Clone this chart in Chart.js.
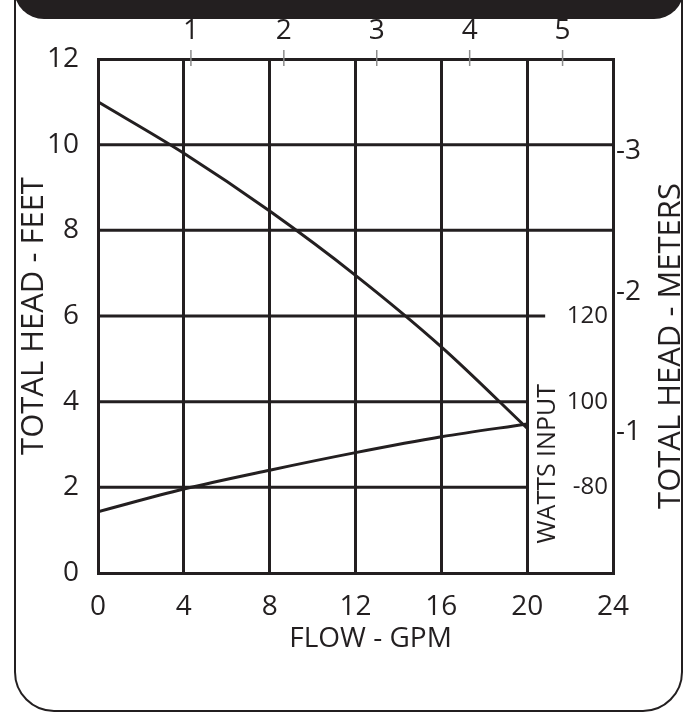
<!DOCTYPE html>
<html>
<head>
<meta charset="utf-8">
<script src="https://cdn.jsdelivr.net/npm/chart.js@4.4.1/dist/chart.umd.min.js"></script>
<style>
  html, body { margin: 0; padding: 0; background: #fff; overflow: hidden; }
  #wrap { position: relative; width: 696px; height: 714px; overflow: hidden; }
  .frame { position: absolute; left: 14px; top: -100px; width: 665px; height: 808px;
           border: 2.5px solid #231f20; border-radius: 40px; }
  .header { position: absolute; left: 14px; top: -80px; width: 670px; height: 99px;
            background: #231f20; border-radius: 0 0 30px 30px; }
  canvas { position: absolute; left: 0; top: 0; }
</style>
</head>
<body>
<div id="wrap">
  <div class="frame"></div>
  <div class="header"></div>
  <canvas id="chart" width="696" height="714"></canvas>
</div>
<script>
// ---- data ----
const flowGpm    = [0, 4, 8, 12, 16, 20];
const headFeet   = [11.0, 9.8, 8.45, 6.95, 5.28, 3.38];
const wattsInput = [74.3, 79.6, 84.0, 88.1, 91.8, 94.8];

// ---- axis ticks ----
const flowTicks   = [0, 4, 8, 12, 16, 20, 24];
const headTicks   = [0, 2, 4, 6, 8, 10, 12];
const meterTicks  = [1, 2, 3];
const meterLabels = ['-1', '-2', '-3'];
const cubicTicks  = [1, 2, 3, 4, 5];
const wattTicks   = [80, 100, 120];
const wattLabels  = ['-80', '100', '120'];

const FT_PER_M = 3.2808;
const GPM_PER_M3H = 4.33;
const ink = '#231f20';

Chart.defaults.font.family = "'Open Sans', sans-serif";
Chart.defaults.color = ink;

function setTicks(list) {
    return scale => { scale.ticks = list.map(v => ({ value: v })); };
}

// lines, marks and labels the axes can't draw by themselves
const extras = {
    id: 'extras',
    beforeDatasetsDraw(chart) {
        const { ctx, chartArea, scales } = chart;
        const x = scales.x, y = scales.y, yW = scales.yW, x2 = scales.x2;
        const x20 = x.getPixelForValue(20);

        ctx.save();
        ctx.strokeStyle = ink;
        ctx.lineWidth = 3;
        // horizontal grid: upper lines run full width, lower ones stop at 20 GPM
        headTicks.forEach(v => {
            if (v === 0 || v === 12) return;
            const py = y.getPixelForValue(v);
            ctx.beginPath();
            ctx.moveTo(chartArea.left, py);
            ctx.lineTo(v >= 8 ? chartArea.right : x20, py);
            ctx.stroke();
        });
        // 120 W tick mark
        const p120 = yW.getPixelForValue(120);
        ctx.beginPath();
        ctx.moveTo(x20, p120);
        ctx.lineTo(x20 + 18, p120);
        ctx.stroke();

        // small grey ticks of the top (m3/h) scale
        ctx.strokeStyle = '#8c8c8c';
        ctx.lineWidth = 1.5;
        cubicTicks.forEach(v => {
            const px = x2.getPixelForValue(v);
            ctx.beginPath();
            ctx.moveTo(px, chartArea.top - 9);
            ctx.lineTo(px, chartArea.top + 7);
            ctx.stroke();
        });
        ctx.restore();
    },
    afterDraw(chart) {
        const { ctx, chartArea, scales } = chart;
        const yW = scales.yW;
        ctx.save();
        ctx.fillStyle = ink;

        // watts labels
        ctx.font = "24px 'Open Sans'";
        ctx.textAlign = 'right';
        ctx.textBaseline = 'middle';
        wattTicks.forEach((v, i) => {
            ctx.fillText(wattLabels[i], chartArea.right - 5, yW.getPixelForValue(v));
        });

        ctx.textAlign = 'center';

        // flow axis title (sits a little right of centre in the original)
        ctx.font = "28px 'Open Sans'";
        ctx.fillText('FLOW - GPM', scales.x.getPixelForValue(12.7), chartArea.bottom + 66);

        // rotated titles
        ctx.font = "25px 'Open Sans'";
        ctx.save();
        ctx.translate(scales.x.getPixelForValue(20) + 21, yW.getPixelForValue(85.5));
        ctx.rotate(-Math.PI / 2);
        ctx.fillText('WATTS INPUT', 0, 0);
        ctx.restore();

        ctx.font = "31px 'Open Sans'";
        ctx.save();
        ctx.translate(671, (chartArea.top + chartArea.bottom) / 2 + 30);
        ctx.rotate(-Math.PI / 2);
        ctx.fillText('TOTAL HEAD - METERS', 0, 0);
        ctx.restore();

        ctx.restore();
    }
};

const ctx = document.getElementById('chart').getContext('2d');

new Chart(ctx, {
    type: 'line',
    data: {
        datasets: [
            {
                label: 'Total head',
                data: flowGpm.map((f, i) => ({ x: f, y: headFeet[i] })),
                xAxisID: 'x',
                yAxisID: 'y',
                borderColor: ink,
                borderWidth: 3,
                pointRadius: 0,
                cubicInterpolationMode: 'monotone',
                fill: false
            },
            {
                label: 'Watts input',
                data: flowGpm.map((f, i) => ({ x: f, y: wattsInput[i] })),
                xAxisID: 'x',
                yAxisID: 'yW',
                borderColor: ink,
                borderWidth: 3,
                pointRadius: 0,
                cubicInterpolationMode: 'monotone',
                fill: false
            }
        ]
    },
    options: {
        responsive: false,
        animation: false,
        layout: { padding: 0 },
        plugins: {
            legend: { display: false },
            tooltip: { enabled: false }
        },
        scales: {
            x: {
                type: 'linear',
                position: 'bottom',
                min: 0,
                max: 24,
                afterBuildTicks: setTicks(flowTicks),
                afterFit: s => { s.height = 141; },
                grid: { color: ink, lineWidth: 3, drawTicks: false },
                border: { color: ink, width: 3 },
                ticks: { font: { size: 28 }, color: ink, padding: 17, maxRotation: 0, autoSkip: false }
            },
            x2: {
                type: 'linear',
                position: 'top',
                min: 0,
                max: 24 / GPM_PER_M3H,
                afterBuildTicks: setTicks(cubicTicks),
                afterFit: s => { s.height = 59; },
                grid: { display: false, drawTicks: false },
                border: { color: ink, width: 3 },
                ticks: { font: { size: 28 }, color: ink, padding: 11, maxRotation: 0, autoSkip: false }
            },
            y: {
                type: 'linear',
                position: 'left',
                min: 0,
                max: 12,
                afterBuildTicks: setTicks(headTicks),
                afterFit: s => { s.width = 98; },
                grid: { display: false, drawTicks: false },
                border: { color: ink, width: 3 },
                ticks: { font: { size: 28 }, color: ink, padding: 19, autoSkip: false },
                title: {
                    display: true,
                    text: 'TOTAL HEAD - FEET',
                    font: { size: 31 },
                    color: ink,
                    padding: { top: 16, bottom: 0 }
                }
            },
            y2: {
                type: 'linear',
                position: 'right',
                min: 0,
                max: 12 / FT_PER_M,
                afterBuildTicks: setTicks(meterTicks),
                afterFit: s => { s.width = 83; },
                grid: { display: false, drawTicks: false },
                border: { color: ink, width: 3 },
                ticks: {
                    font: { size: 28 },
                    color: ink,
                    padding: 3,
                    autoSkip: false,
                    callback: v => meterLabels[meterTicks.indexOf(v)]
                }
            },
            yW: {
                type: 'linear',
                display: false,
                min: 60,
                max: 180
            }
        }
    },
    plugins: [extras]
});
</script>
</body>
</html>
